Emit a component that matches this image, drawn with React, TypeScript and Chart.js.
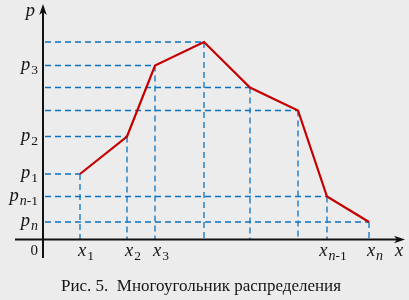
import React, { useEffect, useRef } from 'react';
import { Chart, registerables } from 'chart.js';

Chart.register(...registerables);

// ---- data ----
const xValues = [37, 84, 112, 161, 207, 255, 284, 326];
const pValues = [65.5, 103, 174, 197.5, 152, 129, 43, 17.5];
const xTickSubs = ['1', '2', '3', '', '', '', 'n-1', 'n'];
const pTickSubs = ['1', '2', '3', '', '', '', 'n-1', 'n'];
const xAxisName = 'x';
const pAxisName = 'p';
const originLabel = '0';
const caption = 'Рис. 5.  Многоугольник распределения';

const FAMILY = '"Liberation Serif", serif';
const TEXT = '#141414';

function drawSubLabel(
  ctx: CanvasRenderingContext2D,
  base: string,
  sub: string,
  x: number,
  yMid: number,
  align: 'left' | 'right' | 'center'
) {
  const baseFont = `italic 18.5px ${FAMILY}`;
  ctx.font = baseFont;
  const wb = ctx.measureText(base).width;
  const parts = sub.split('').map((ch) => {
    const f = /[a-z]/i.test(ch) ? `italic 14px ${FAMILY}` : `13.5px ${FAMILY}`;
    ctx.font = f;
    return { ch, f, w: ctx.measureText(ch).width };
  });
  const ws = parts.reduce((s, p) => s + p.w, 0);
  const gap = sub ? 1 : 0;
  const total = wb + gap + ws;
  let sx = x;
  if (align === 'right') sx = x - total;
  else if (align === 'center') sx = x - total / 2;
  const baseline = yMid + 4;
  ctx.textAlign = 'left';
  ctx.textBaseline = 'alphabetic';
  ctx.fillStyle = TEXT;
  ctx.font = baseFont;
  ctx.fillText(base, sx, baseline);
  let cx = sx + wb + gap;
  parts.forEach((p) => {
    ctx.font = p.f;
    ctx.fillText(p.ch, cx, baseline + 4);
    cx += p.w;
  });
}

function arrow(ctx: CanvasRenderingContext2D, tx: number, ty: number, dx: number, dy: number) {
  // stealth arrow head pointing in direction (dx,dy)
  const L = 11;
  const W = 3.8;
  const px = -dy;
  const py = dx;
  ctx.beginPath();
  ctx.moveTo(tx, ty);
  ctx.lineTo(tx - dx * L + px * W, ty - dy * L + py * W);
  ctx.lineTo(tx - dx * L * 0.72, ty - dy * L * 0.72);
  ctx.lineTo(tx - dx * L - px * W, ty - dy * L - py * W);
  ctx.closePath();
  ctx.fill();
}

const guidesPlugin = {
  id: 'guides',
  beforeDatasetsDraw(chart: any) {
    const { ctx } = chart;
    const xs = chart.scales.x;
    const ys = chart.scales.y;
    const ox = xs.getPixelForValue(0);
    const oy = ys.getPixelForValue(0);
    ctx.save();
    ctx.strokeStyle = '#0a72c4';
    ctx.lineWidth = 1.3;
    ctx.setLineDash([6, 4]);
    xValues.forEach((xv, i) => {
      const px = xs.getPixelForValue(xv);
      const py = ys.getPixelForValue(pValues[i]);
      ctx.beginPath();
      ctx.moveTo(ox + 2, py);
      ctx.lineTo(px, py);
      ctx.stroke();
      ctx.beginPath();
      ctx.moveTo(px, py);
      ctx.lineTo(px, oy);
      ctx.stroke();
    });
    ctx.restore();
  },
  afterDraw(chart: any) {
    const { ctx } = chart;
    const xs = chart.scales.x;
    const ys = chart.scales.y;
    const ox = xs.getPixelForValue(0);
    const oy = ys.getPixelForValue(0);
    const yTop = ys.getPixelForValue(235.5);
    const xRight = xs.getPixelForValue(362);
    ctx.save();
    ctx.strokeStyle = '#111';
    ctx.fillStyle = '#111';
    ctx.lineWidth = 2;
    ctx.setLineDash([]);
    // y axis
    ctx.beginPath();
    ctx.moveTo(ox, oy + 18.5);
    ctx.lineTo(ox, yTop + 8);
    ctx.stroke();
    arrow(ctx, ox, yTop, 0, -1);
    // x axis
    ctx.beginPath();
    ctx.moveTo(ox - 28, oy);
    ctx.lineTo(xRight - 8, oy);
    ctx.stroke();
    arrow(ctx, xRight, oy, 1, 0);

    // y tick labels
    pValues.forEach((pv, i) => {
      if (!pTickSubs[i]) return;
      drawSubLabel(ctx, pAxisName, pTickSubs[i], ox - 5, ys.getPixelForValue(pv), 'right');
    });
    // x tick labels
    xValues.forEach((xv, i) => {
      if (!xTickSubs[i]) return;
      drawSubLabel(ctx, xAxisName, xTickSubs[i], xs.getPixelForValue(xv) + 6, oy + 12, 'center');
    });
    // axis names
    drawSubLabel(ctx, pAxisName, '', ox - 8, yTop + 8, 'right');
    drawSubLabel(ctx, xAxisName, '', xRight - 10, oy + 12, 'left');
    // origin
    ctx.font = `15px ${FAMILY}`;
    ctx.fillStyle = TEXT;
    ctx.textAlign = 'right';
    ctx.textBaseline = 'middle';
    ctx.fillText(originLabel, ox - 5, oy + 12);
    ctx.restore();
  },
};

export default function App() {
  const ref = useRef<HTMLCanvasElement | null>(null);
  useEffect(() => {
    if (!ref.current) return;
    const chart = new Chart(ref.current, {
      type: 'scatter',
      data: {
        datasets: [
          {
            data: xValues.map((x, i) => ({ x, y: pValues[i] })),
            showLine: true,
            borderColor: '#c40000',
            borderWidth: 2.2,
            pointRadius: 0,
            fill: false,
          },
        ],
      },
      options: {
        responsive: false,
        animation: false,
        devicePixelRatio: 1,
        layout: { padding: { left: 0, right: 7, top: 0, bottom: 0 } },
        scales: {
          x: { type: 'linear', min: -43, max: 359, display: false },
          y: { type: 'linear', min: 0, max: 239.5, display: false },
        },
        plugins: {
          legend: { display: false },
          tooltip: { enabled: false },
          title: {
            display: true,
            text: caption,
            position: 'bottom',
            color: TEXT,
            font: { family: FAMILY, size: 17, weight: 'normal', lineHeight: 1.2 },
            padding: { top: 37.3, bottom: 2.8 },
          },
        },
      },
      plugins: [guidesPlugin],
    });
    return () => chart.destroy();
  }, []);
  return (
    <div
      style={{
        position: 'absolute',
        left: 0,
        top: 0,
        width: 409,
        height: 300,
        background: '#ececec',
      }}
    >
      <canvas ref={ref} width={409} height={300} />
    </div>
  );
}
